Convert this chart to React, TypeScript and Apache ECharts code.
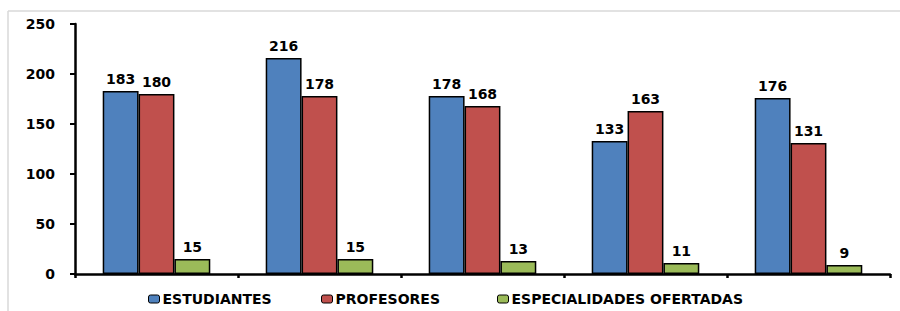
import React, { useEffect, useRef } from "react";
import * as echarts from "echarts";

const categories = ["1", "2", "3", "4", "5"];
const seriesNames = ["ESTUDIANTES", "PROFESORES", "ESPECIALIDADES OFERTADAS"];
const estudiantes = [183, 216, 178, 133, 176];
const profesores = [180, 178, 168, 163, 131];
const especialidades = [15, 15, 13, 11, 9];
const colors = ["#4F81BD", "#C0504D", "#9BBB59"];
const legendLefts = [143, 316, 492];

const FONT = "'DejaVu Sans', sans-serif";

export default function App() {
  const ref = useRef<HTMLDivElement>(null);
  useEffect(() => {
    if (!ref.current) return;
    const chart = echarts.init(ref.current, null, { renderer: "svg" });
    const values = [estudiantes, profesores, especialidades];
    chart.setOption({
      animation: false,
      backgroundColor: "#ffffff",
      grid: { left: 75, right: 10, top: 24, bottom: 37, containLabel: false },
      legend: seriesNames.map((n, i) => ({
        data: [n],
        left: legendLefts[i],
        top: 287,
        itemWidth: 11,
        itemHeight: 8,
        itemGap: 0,
        selectedMode: false,
        textStyle: { fontFamily: FONT, fontWeight: "bold", fontSize: 14, color: "#000", padding: [0, 0, 0, -2] },
        itemStyle: { borderColor: "#000", borderWidth: 1 },
      })),
      graphic: [
        { type: "line", shape: { x1: 8, y1: 11, x2: 900, y2: 11 }, style: { stroke: "#d9d9d9", lineWidth: 1.5 } },
        { type: "line", shape: { x1: 8, y1: 11, x2: 8, y2: 311 }, style: { stroke: "#d9d9d9", lineWidth: 1.5 } },
      ],
      xAxis: {
        type: "category",
        data: categories,
        boundaryGap: true,
        axisLine: { show: true, lineStyle: { color: "#000", width: 2.5 } },
        axisTick: { show: true, length: 4, lineStyle: { color: "#000", width: 2.5 } },
        axisLabel: { show: false },
      },
      yAxis: {
        type: "value",
        min: 0,
        max: 250,
        interval: 50,
        axisLine: { show: true, lineStyle: { color: "#000", width: 2.5 } },
        axisTick: { show: true, length: 5, lineStyle: { color: "#000", width: 2 } },
        splitLine: { show: false },
        axisLabel: { margin: 20, fontFamily: FONT, fontWeight: "bold", fontSize: 14, color: "#000" },
      },
      series: seriesNames.map((n, i) => ({
        name: n,
        type: "bar",
        data: values[i],
        barGap: "0%",
        barCategoryGap: "34%",
        itemStyle: { color: colors[i], borderColor: "#000", borderWidth: 1.5 },
        label: {
          show: true,
          position: "top",
          distance: 5,
          fontFamily: FONT,
          fontWeight: "bold",
          fontSize: 14,
          color: "#000",
        },
      })),
    });
    return () => chart.dispose();
  }, []);
  return (
    <div
      ref={ref}
      style={{ position: "fixed", left: 0, top: 0, width: 900, height: 311, background: "#fff" }}
    />
  );
}
